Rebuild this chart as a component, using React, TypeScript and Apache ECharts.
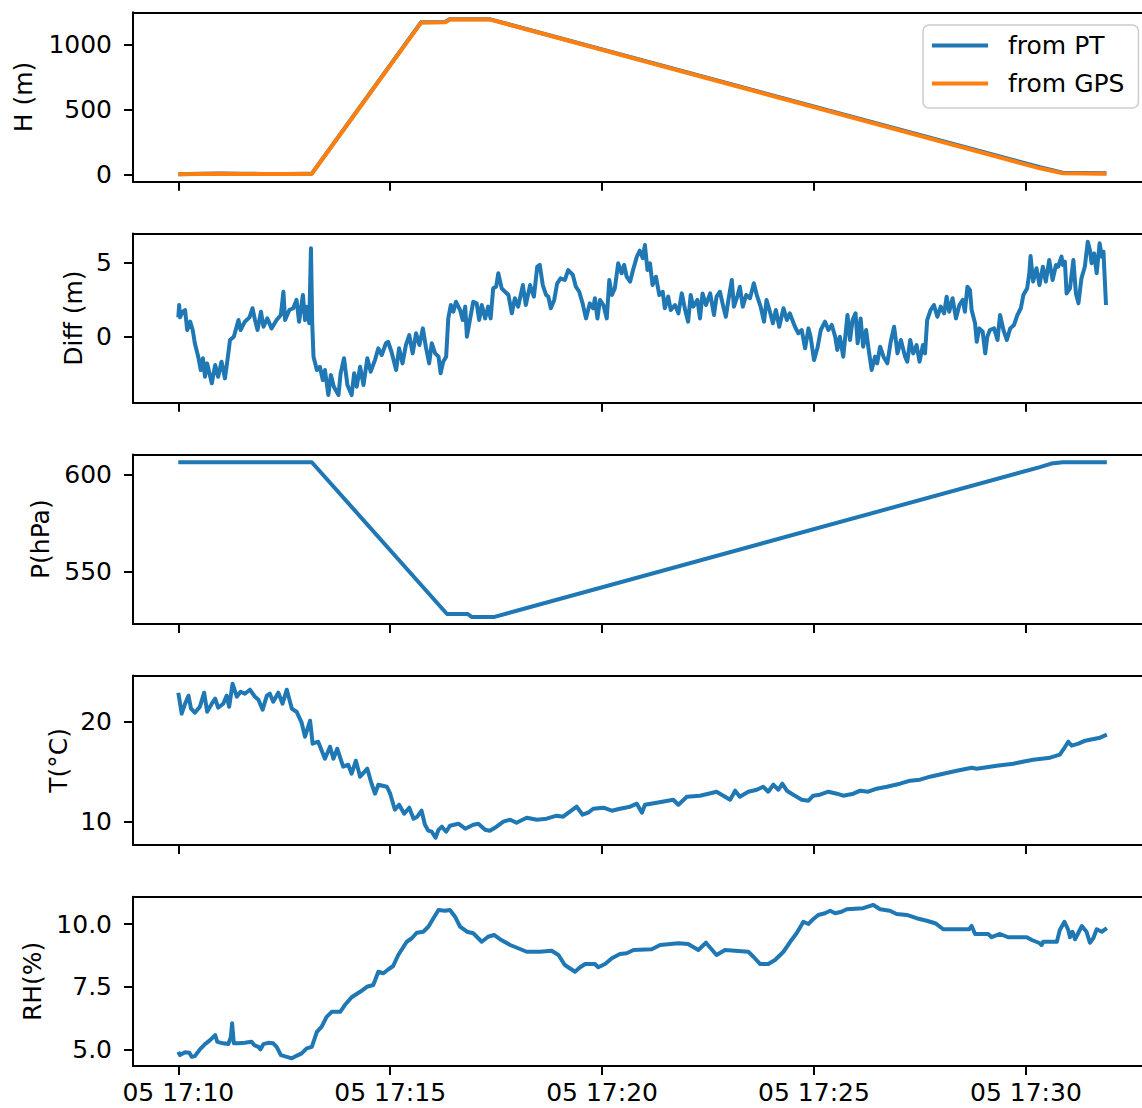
import React, { useEffect, useRef } from "react";
import * as echarts from "echarts";

// time in minutes after 17:10 on day 05
const timeTicks = [0, 5, 10, 15, 20];

const heightPT = [[0,0],[0.5,4],[1.0,6],[1.5,4],[2.0,3],[2.5,3],[3.0,4],[3.15,5],[5.73,1170],[6.3,1172],[6.4,1192],[7.36,1192],[20.33,54],[20.87,12],[21.9,8]];
const heightGPS = [[0,0],[0.5,3],[1.0,5],[1.5,3],[2.0,2],[2.5,3],[3.0,3],[3.15,4],[5.73,1167],[6.3,1170],[6.4,1190],[7.36,1190],[20.33,46],[20.87,8],[21.9,5]];

const diffData = [
[0,1.30],[0.02,2.13],[0.04,1.30],[0.10,1.68],[0.16,1.79],[0.21,0.45],[0.28,1.01],[0.34,0.45],[0.39,-0.44],[0.47,-1.34],[0.53,-2.24],[0.58,-1.45],[0.63,-2.69],[0.68,-1.79],[0.79,-3.13],[0.87,-1.90],[0.94,-2.69],[1.02,-1.68],[1.10,-2.80],[1.16,-1.57],[1.22,-0.22],[1.31,0.00],[1.42,1.12],[1.47,0.45],[1.57,1.01],[1.68,1.30],[1.75,1.91],[1.81,1.12],[1.87,0.45],[1.95,1.68],[2.01,0.67],[2.10,1.23],[2.20,0.56],[2.32,1.12],[2.42,1.46],[2.48,3.02],[2.52,1.12],[2.62,1.79],[2.71,1.91],[2.79,2.47],[2.85,1.01],[2.94,2.80],[2.99,1.12],[3.03,2.02],[3.09,0.90],[3.13,5.94],[3.16,0.90],[3.19,-1.34],[3.27,-2.24],[3.34,-2.02],[3.41,-2.91],[3.46,-2.24],[3.54,-3.92],[3.60,-2.57],[3.67,-3.36],[3.78,-3.92],[3.83,-2.46],[3.91,-1.45],[3.99,-3.25],[4.09,-3.92],[4.15,-2.46],[4.21,-3.36],[4.29,-2.02],[4.37,-3.25],[4.46,-1.45],[4.54,-2.35],[4.64,-1.57],[4.72,-0.78],[4.80,-1.23],[4.90,-0.44],[4.95,-0.34],[5.03,-1.01],[5.14,-2.24],[5.21,-0.78],[5.29,-1.79],[5.37,-0.56],[5.45,0.11],[5.53,-1.12],[5.61,0.23],[5.69,-0.56],[5.77,0.56],[5.84,-0.67],[5.92,-1.79],[5.98,-0.44],[6.06,-1.12],[6.14,-1.34],[6.19,-2.46],[6.25,-1.68],[6.32,-1.34],[6.37,1.23],[6.43,2.13],[6.49,1.68],[6.55,2.35],[6.65,1.79],[6.71,1.12],[6.77,2.02],
[6.81,0.00],[6.88,1.12],[6.96,2.35],[7.04,2.24],[7.10,1.12],[7.16,2.13],[7.24,1.23],[7.31,2.02],[7.37,1.23],[7.43,3.25],[7.50,3.36],[7.55,4.26],[7.63,3.25],[7.71,3.02],[7.79,2.80],[7.87,1.57],[7.94,2.58],[8.02,2.02],[8.13,3.47],[8.20,2.13],[8.30,3.47],[8.39,2.69],[8.47,4.70],[8.53,4.82],[8.60,3.47],[8.68,2.80],[8.73,2.69],[8.79,1.91],[8.87,2.47],[8.94,3.59],[9.02,3.92],[9.12,3.81],[9.20,4.48],[9.31,4.15],[9.38,3.36],[9.46,3.02],[9.54,2.24],[9.62,1.23],[9.71,2.24],[9.79,1.91],[9.83,2.58],[9.89,1.23],[9.95,2.47],[10.03,2.13],[10.11,1.23],[10.17,3.81],[10.23,2.80],[10.30,3.25],[10.38,4.93],[10.46,4.26],[10.52,4.82],[10.58,4.03],[10.66,3.70],[10.73,4.48],[10.82,5.38],[10.89,5.78],[10.96,5.27],[11.01,6.16],[11.07,4.48],[11.13,4.93],[11.19,3.47],[11.27,4.03],[11.35,2.80],[11.43,3.02],[11.48,1.91],[11.56,2.69],[11.62,1.79],[11.72,2.13],[11.80,1.57],[11.88,2.91],[11.96,1.79],[12.03,1.01],[12.09,2.80],[12.15,2.02],[12.25,2.47],[12.31,1.23],[12.37,2.91],[12.45,2.13],[12.55,2.91],[12.64,1.46],[12.70,2.69],[12.78,3.02],[12.86,2.02],[12.92,1.34],[12.98,2.47],[13.06,3.81],[13.11,2.02],[13.19,2.69],[13.25,3.36],[13.32,2.02],[13.40,2.80],[13.49,2.58],[13.58,3.59],[13.65,2.80],[13.74,2.02],[13.82,1.01],[13.88,2.47],[13.96,1.68],[14.03,0.90],[14.10,1.79],[14.18,0.67],[14.28,1.91],[14.36,1.12],
[14.43,1.57],[14.55,0.67],[14.63,0.23],[14.71,0.45],[14.79,-0.78],[14.87,0.56],[14.92,0.00],[15.00,-1.57],[15.08,-0.78],[15.16,0.45],[15.26,1.01],[15.34,0.45],[15.42,0.79],[15.50,0.00],[15.55,-0.89],[15.61,0.00],[15.69,-1.34],[15.79,1.46],[15.85,-0.22],[15.91,1.12],[15.98,1.57],[16.03,-0.44],[16.10,1.23],[16.16,-0.67],[16.23,0.45],[16.28,-0.67],[16.36,-2.24],[16.44,-1.34],[16.49,-1.79],[16.56,-0.67],[16.64,-1.34],[16.73,-1.79],[16.81,-0.34],[16.89,0.67],[16.97,-1.12],[17.05,-0.22],[17.15,-1.34],[17.20,-1.68],[17.27,-0.22],[17.34,-1.12],[17.42,-0.56],[17.49,-1.68],[17.57,-0.56],[17.62,-1.12],[17.67,1.12],[17.75,1.79],[17.83,2.13],[17.91,1.34],[17.99,2.02],[18.07,1.57],[18.13,2.69],[18.19,1.68],[18.27,2.58],[18.35,1.23],[18.43,2.13],[18.51,2.47],[18.56,1.68],[18.62,3.36],[18.68,3.14],[18.72,1.79],[18.80,0.90],[18.84,-0.34],[18.90,0.56],[18.98,0.34],[19.04,-1.12],[19.09,0.00],[19.15,0.45],[19.25,0.56],[19.33,-0.22],[19.39,1.46],[19.47,0.45],[19.55,-0.22],[19.63,0.56],[19.72,0.79],[19.80,1.46],[19.88,1.91],[19.94,2.80],[20.03,3.25],[20.08,4.26],[20.11,5.42],[20.17,3.70],[20.25,4.60],[20.32,3.47],[20.40,4.70],[20.47,3.70],[20.55,5.15],[20.63,3.81],[20.71,4.82],[20.76,4.70],[20.84,5.38],[20.87,4.82],[20.92,5.04],[20.96,2.91],[21.04,3.25],[21.12,5.15],[21.18,2.91],[21.24,2.24],[21.31,3.92],[21.39,4.70],[21.46,6.38],[21.51,5.82],[21.55,4.93],[21.61,5.60],[21.67,4.26],[21.74,6.28],[21.79,5.38],[21.83,5.71],[21.89,2.13]
];

const pressureData = [[0,606.2],[3.15,606.2],[6.34,528.3],[6.83,528.3],[6.92,526.8],[7.46,526.8],[20.33,603.7],[20.6,605.5],[20.87,606.2],[21.91,606.2]];

const tempData = [
[0,22.9],[0.08,20.8],[0.16,21.8],[0.24,22.6],[0.30,21.3],[0.39,20.9],[0.51,21.5],[0.61,22.9],[0.68,21.0],[0.79,21.8],[0.87,22.3],[0.94,21.4],[1.06,21.8],[1.14,22.6],[1.20,21.5],[1.28,23.8],[1.38,22.5],[1.47,23.0],[1.57,22.8],[1.69,23.2],[1.81,22.5],[1.89,22.2],[1.99,21.2],[2.09,22.6],[2.16,22.8],[2.24,22.0],[2.36,22.9],[2.46,21.8],[2.56,23.2],[2.68,21.3],[2.79,21.0],[2.91,19.9],[2.99,18.5],[3.11,20.1],[3.17,17.8],[3.30,18.0],[3.46,16.3],[3.58,17.5],[3.66,16.3],[3.75,17.3],[3.89,15.5],[4.01,15.7],[4.09,14.8],[4.19,16.1],[4.29,14.5],[4.46,15.3],[4.56,13.8],[4.64,12.8],[4.72,13.7],[4.92,13.5],[5.00,12.8],[5.11,11.2],[5.21,11.7],[5.33,10.8],[5.45,11.4],[5.55,10.3],[5.64,10.5],[5.74,11.1],[5.82,9.7],[5.90,9.1],[5.98,9.0],[6.07,8.4],[6.14,9.2],[6.22,9.5],[6.32,9.0],[6.41,9.6],[6.61,9.8],[6.77,9.3],[6.96,9.7],[7.08,9.8],[7.24,9.2],[7.35,9.1],[7.51,9.5],[7.67,10.0],[7.83,10.2],[7.98,9.9],[8.22,10.4],[8.46,10.2],[8.69,10.3],[8.93,10.6],[9.08,10.5],[9.24,11.0],[9.40,11.5],[9.54,10.7],[9.67,10.9],[9.79,11.3],[10.03,11.4],[10.23,11.1],
[10.42,11.3],[10.66,11.5],[10.82,11.8],[10.94,10.9],[11.01,11.7],[11.29,11.9],[11.68,12.2],[11.80,11.7],[12.00,12.5],[12.31,12.6],[12.51,12.8],[12.70,13.0],[12.82,12.7],[13.02,12.2],[13.14,13.1],[13.25,12.5],[13.45,13.0],[13.65,13.2],[13.80,13.5],[13.92,13.0],[14.04,13.7],[14.16,13.2],[14.25,13.8],[14.36,13.1],[14.51,12.7],[14.71,12.2],[14.87,12.1],[14.98,12.6],[15.14,12.7],[15.34,13.0],[15.54,12.8],[15.69,12.6],[15.93,12.8],[16.09,13.1],[16.28,13.0],[16.48,13.3],[16.72,13.5],[17.03,13.8],[17.27,14.1],[17.50,14.2],[17.74,14.5],[18.05,14.8],[18.37,15.1],[18.72,15.4],[18.84,15.3],[19.31,15.6],[19.70,15.8],[20.17,16.2],[20.57,16.4],[20.80,16.7],[20.88,17.2],[21.00,18.0],[21.08,17.6],[21.24,17.8],[21.40,18.1],[21.51,18.2],[21.63,18.3],[21.75,18.4],[21.91,18.7]
];

const rhData = [
[0,4.90],[0.04,4.77],[0.16,4.88],[0.26,4.86],[0.32,4.70],[0.39,4.73],[0.51,5.00],[0.63,5.21],[0.75,5.37],[0.87,5.57],[0.92,5.30],[1.06,5.24],[1.18,5.21],[1.24,5.50],[1.27,6.04],[1.31,5.24],[1.42,5.24],[1.57,5.26],[1.73,5.30],[1.79,5.17],[1.89,5.10],[1.94,5.00],[2.01,5.21],[2.12,5.26],[2.24,5.24],[2.32,5.10],[2.42,4.77],[2.56,4.70],[2.68,4.64],[2.79,4.74],[2.91,4.84],[3.03,5.04],[3.15,5.10],[3.27,5.70],[3.38,5.90],[3.50,6.30],[3.62,6.50],[3.82,6.50],[3.93,6.77],[4.09,7.08],[4.29,7.30],[4.45,7.50],[4.60,7.57],[4.72,8.10],[4.84,8.04],[4.96,8.20],[5.07,8.33],[5.19,8.77],[5.39,9.30],[5.51,9.44],[5.63,9.66],[5.78,9.70],[5.90,9.90],[6.02,10.24],[6.14,10.57],[6.29,10.54],[6.41,10.57],[6.53,10.30],[6.65,9.90],[6.81,9.70],[6.96,9.64],[7.16,9.30],[7.31,9.50],[7.45,9.57],[7.59,9.40],[7.83,9.17],[8.02,9.04],[8.22,8.90],[8.53,8.90],[8.81,8.94],[8.97,8.77],[9.12,8.37],[9.36,8.10],[9.48,8.28],[9.60,8.41],[9.83,8.41],[9.91,8.28],[10.07,8.41],[10.23,8.64],
[10.42,8.81],[10.58,8.84],[10.74,8.97],[11.17,9.00],[11.37,9.17],[11.80,9.24],[12.03,9.21],[12.27,8.97],[12.45,9.26],[12.70,8.77],[12.90,8.97],[13.45,8.90],[13.57,8.70],[13.73,8.41],[13.92,8.41],[14.08,8.57],[14.28,8.90],[14.47,9.37],[14.59,9.64],[14.75,10.10],[14.87,10.01],[14.98,10.20],[15.10,10.37],[15.26,10.44],[15.38,10.54],[15.50,10.44],[15.65,10.50],[15.77,10.60],[16.16,10.64],[16.40,10.77],[16.56,10.60],[16.79,10.54],[16.95,10.41],[17.19,10.37],[17.42,10.24],[17.66,10.14],[17.86,10.04],[18.05,9.80],[18.66,9.80],[18.72,9.93],[18.80,9.61],[19.11,9.61],[19.19,9.48],[19.39,9.61],[19.58,9.48],[20.02,9.48],[20.14,9.37],[20.33,9.24],[20.37,9.17],[20.41,9.30],[20.73,9.30],[20.80,9.77],[20.91,10.10],[21.00,9.77],[21.04,9.48],[21.10,9.70],[21.16,9.40],[21.32,9.93],[21.43,9.70],[21.51,9.26],[21.59,9.44],[21.67,9.80],[21.79,9.70],[21.91,9.84]
];

const hTicks = [0, 500, 1000];
const diffTicks = [0, 5];
const pTicks = [550, 600];
const tTicks = [10, 20];
const rhTicks = [5, 7.5, 10];

const BLUE = "#1f77b4";
const ORANGE = "#ff7f0e";
const FONT = "DejaVu Sans";
const FS = 25;

const GRID_LEFT = 133;
const GRID_W = 1009; // to the canvas' right edge; the right spine lies beyond the picture
const PX_PER_MIN = 42.38;
const GRID_H = 169.4;
const TOPS = [12.3, 233.4, 454.5, 675.6, 896.7];
const X_MIN = -1.069;
const X_MAX = X_MIN + GRID_W / PX_PER_MIN;

const panels = [
  { name: "H (m)", ticks: hTicks, min: -57, max: 1246, fmt: (v: number) => String(v), nameX: 23 },
  { name: "Diff (m)", ticks: diffTicks, min: -4.44, max: 6.94, fmt: (v: number) => String(v), nameX: 73 },
  { name: "P(hPa)", ticks: pTicks, min: 523.2, max: 610.16, fmt: (v: number) => String(v), nameX: 40 },
  { name: "T(°C)", ticks: tTicks, min: 7.67, max: 24.61, fmt: (v: number) => String(v), nameX: 58 },
  { name: "RH(%)", ticks: rhTicks, min: 4.33, max: 11.1, fmt: (v: number) => v.toFixed(1), nameX: 32 },
];

function timeLabel(v: number) {
  const m = 10 + Math.round(v);
  return "05 17:" + String(m).padStart(2, "0");
}

export default function App() {
  const ref = useRef<HTMLDivElement>(null);
  useEffect(() => {
    if (!ref.current) return;
    const chart = echarts.init(ref.current, undefined, { renderer: "svg" });
    const black = "#000";
    const spine = { color: black, width: 2 };
    const grids = TOPS.map((top) => ({
      left: GRID_LEFT, top, width: GRID_W, height: GRID_H, show: false,
    }));
    const bottomAxes = TOPS.map((_, i) => ({
      type: "value", gridIndex: i, position: "bottom", min: X_MIN, max: X_MAX,
      axisLine: { show: true, onZero: false, lineStyle: spine },
      axisTick: { show: true, length: 9, lineStyle: spine, customValues: timeTicks },
      axisLabel: {
        show: i === 4, customValues: timeTicks, formatter: timeLabel,
        fontSize: FS, fontFamily: FONT, color: black, margin: 16, lineHeight: 20,
      },
      splitLine: { show: false },
    }));
    const topAxes = TOPS.map((_, i) => ({
      type: "value", gridIndex: i, position: "top", min: X_MIN, max: X_MAX,
      axisLine: { show: true, onZero: false, lineStyle: spine },
      axisTick: { show: false }, axisLabel: { show: false }, splitLine: { show: false },
    }));
    const yAxes = panels.map((p, i) => ({
      type: "value", gridIndex: i, min: p.min, max: p.max,
      axisLine: { show: true, onZero: false, lineStyle: spine },
      axisTick: { show: true, length: 9, lineStyle: spine, customValues: p.ticks },
      axisLabel: {
        customValues: p.ticks, formatter: p.fmt, fontSize: FS, fontFamily: FONT, color: black, margin: 21,
      },
      splitLine: { show: false },
    }));
    const mk = (name: string, data: number[][], idx: number, color: string) => ({
      type: "line", name, data, xAxisIndex: idx, yAxisIndex: idx,
      showSymbol: false, symbol: "none", clip: true,
      lineStyle: { width: 4, color, join: "round", cap: "butt" },
      itemStyle: { color },
      emphasis: { disabled: true },
    });
    const series = [
      mk("from PT", heightPT, 0, BLUE),
      mk("from GPS", heightGPS, 0, ORANGE),
      mk("Diff", diffData, 1, BLUE),
      mk("P", pressureData, 2, BLUE),
      mk("T", tempData, 3, BLUE),
      mk("RH", rhData, 4, BLUE),
    ];
    const graphic = panels.map((p, i) => ({
      type: "text", x: p.nameX, y: TOPS[i] + GRID_H / 2, rotation: Math.PI / 2,
      style: { text: p.name, fontSize: FS, fontFamily: FONT, fill: black, textAlign: "center", textVerticalAlign: "middle" },
    }));
    chart.setOption({
      animation: false,
      backgroundColor: "#fff",
      grid: grids, xAxis: [...bottomAxes, ...topAxes], yAxis: yAxes, series, graphic,
      legend: {
        data: ["from PT", "from GPS"], orient: "vertical", left: 923, top: 25,
        backgroundColor: "rgba(255,255,255,0.8)", borderColor: "#cccccc", borderWidth: 1.5, borderRadius: 6,
        padding: [8, 14, 12, 9], itemWidth: 56, itemHeight: 4, itemGap: 13, icon: "rect",
        textStyle: { fontSize: FS, fontFamily: FONT, color: black, padding: [0, 0, 0, 15] },
        selectedMode: false,
      },
    });
    return () => chart.dispose();
  }, []);
  return (
    <div style={{ position: "absolute", left: 0, top: 0, width: 1142, height: 1108, overflow: "hidden", background: "#fff" }}>
      <div ref={ref} style={{ width: 1142, height: 1108 }} />
    </div>
  );
}
